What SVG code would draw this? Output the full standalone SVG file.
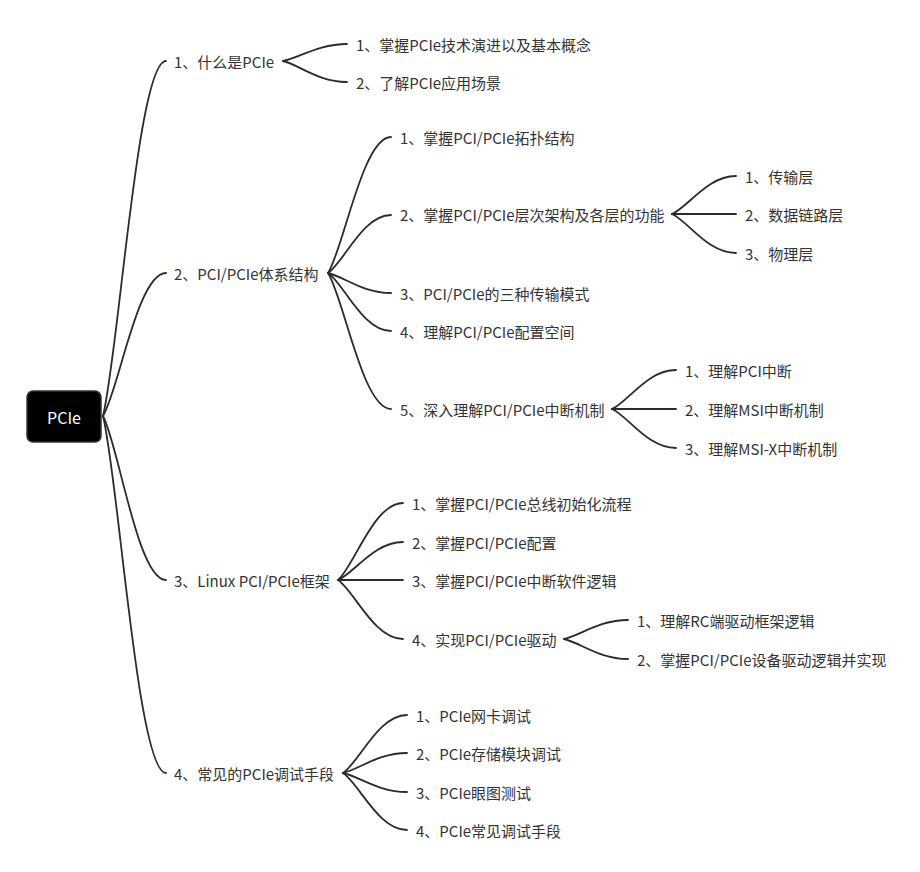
<svg xmlns="http://www.w3.org/2000/svg" width="920" height="872" viewBox="0 0 920 872">
<style>
text{font-family:"Noto Sans CJK SC","Noto Sans",sans-serif;font-size:15px;fill:#333;dominant-baseline:central}
.root text{fill:#fff;font-size:16px;text-anchor:middle}
.c path{fill:none;stroke:#2b2b2b;stroke-width:1.8;stroke-linecap:round}
</style>
<rect width="920" height="872" fill="#fff"/>
<g class="c" id="connectors">
<path d="M103,416 C118.75,352.1 137.65,61 166,61"/>
<path d="M103,416 C118.75,390.3 137.65,273 166,273"/>
<path d="M103,416 C118.75,445.5 137.65,580 166,580"/>
<path d="M103,416 C118.75,480.3 137.65,773 166,773"/>
<path d="M283,61 C299,57.9 318.2,44 347,44"/>
<path d="M283,61 C299,64.8 318.2,82 347,82"/>
<path d="M328,273 C343.75,248.5 362.65,137 391,137"/>
<path d="M328,273 C343.75,262.6 362.65,215 391,215"/>
<path d="M328,273 C343.75,276.6 362.65,293 391,293"/>
<path d="M328,273 C343.75,283.4 362.65,331 391,331"/>
<path d="M328,273 C343.75,297.5 362.65,409 391,409"/>
<path d="M672,214 C688,207.2 707.2,176 736,176"/>
<path d="M672,214 L736,214"/>
<path d="M672,214 C688,221 707.2,253 736,253"/>
<path d="M612,409 C628,402 647.2,370 676,370"/>
<path d="M612,409 L676,409"/>
<path d="M612,409 C628,416 647.2,448 676,448"/>
<path d="M338,580 C354.25,566.1 373.75,503 403,503"/>
<path d="M338,580 C354.25,573.2 373.75,542 403,542"/>
<path d="M338,580 L403,580"/>
<path d="M338,580 C354.25,590.6 373.75,639 403,639"/>
<path d="M564,639 C580,635.6 599.2,620 628,620"/>
<path d="M564,639 C580,642.6 599.2,659 628,659"/>
<path d="M343,773 C359,762.6 378.2,715 407,715"/>
<path d="M343,773 C359,769.4 378.2,753 407,753"/>
<path d="M343,773 C359,776.4 378.2,792 407,792"/>
<path d="M343,773 C359,783.3 378.2,830 407,830"/>
</g>
<g class="root" id="n-root">
<rect x="27" y="391" width="74" height="51" rx="6" fill="#000" stroke="#333" stroke-width="1.5"/>
<text x="64" y="417">PCIe</text>
</g>
<g id="n1"><text x="174" y="61">1、什么是PCIe</text></g>
<g id="n1-1"><text x="356" y="44">1、掌握PCIe技术演进以及基本概念</text></g>
<g id="n1-2"><text x="356" y="82">2、了解PCIe应用场景</text></g>
<g id="n2"><text x="174" y="273">2、PCI/PCIe体系结构</text></g>
<g id="n2-1"><text x="400" y="137">1、掌握PCI/PCIe拓扑结构</text></g>
<g id="n2-2"><text x="400" y="214">2、掌握PCI/PCIe层次架构及各层的功能</text></g>
<g id="n2-2-1"><text x="745" y="176">1、传输层</text></g>
<g id="n2-2-2"><text x="745" y="214">2、数据链路层</text></g>
<g id="n2-2-3"><text x="745" y="253">3、物理层</text></g>
<g id="n2-3"><text x="400" y="293">3、PCI/PCIe的三种传输模式</text></g>
<g id="n2-4"><text x="400" y="331">4、理解PCI/PCIe配置空间</text></g>
<g id="n2-5"><text x="400" y="409">5、深入理解PCI/PCIe中断机制</text></g>
<g id="n2-5-1"><text x="685" y="370">1、理解PCI中断</text></g>
<g id="n2-5-2"><text x="685" y="409">2、理解MSI中断机制</text></g>
<g id="n2-5-3"><text x="685" y="448">3、理解MSI-X中断机制</text></g>
<g id="n3"><text x="174" y="580">3、Linux PCI/PCIe框架</text></g>
<g id="n3-1"><text x="412" y="503">1、掌握PCI/PCIe总线初始化流程</text></g>
<g id="n3-2"><text x="412" y="542">2、掌握PCI/PCIe配置</text></g>
<g id="n3-3"><text x="412" y="580">3、掌握PCI/PCIe中断软件逻辑</text></g>
<g id="n3-4"><text x="412" y="639">4、实现PCI/PCIe驱动</text></g>
<g id="n3-4-1"><text x="637" y="620">1、理解RC端驱动框架逻辑</text></g>
<g id="n3-4-2"><text x="637" y="659">2、掌握PCI/PCIe设备驱动逻辑并实现</text></g>
<g id="n4"><text x="174" y="773">4、常见的PCIe调试手段</text></g>
<g id="n4-1"><text x="416" y="715">1、PCIe网卡调试</text></g>
<g id="n4-2"><text x="416" y="753">2、PCIe存储模块调试</text></g>
<g id="n4-3"><text x="416" y="792">3、PCIe眼图测试</text></g>
<g id="n4-4"><text x="416" y="830">4、PCIe常见调试手段</text></g>
</svg>
